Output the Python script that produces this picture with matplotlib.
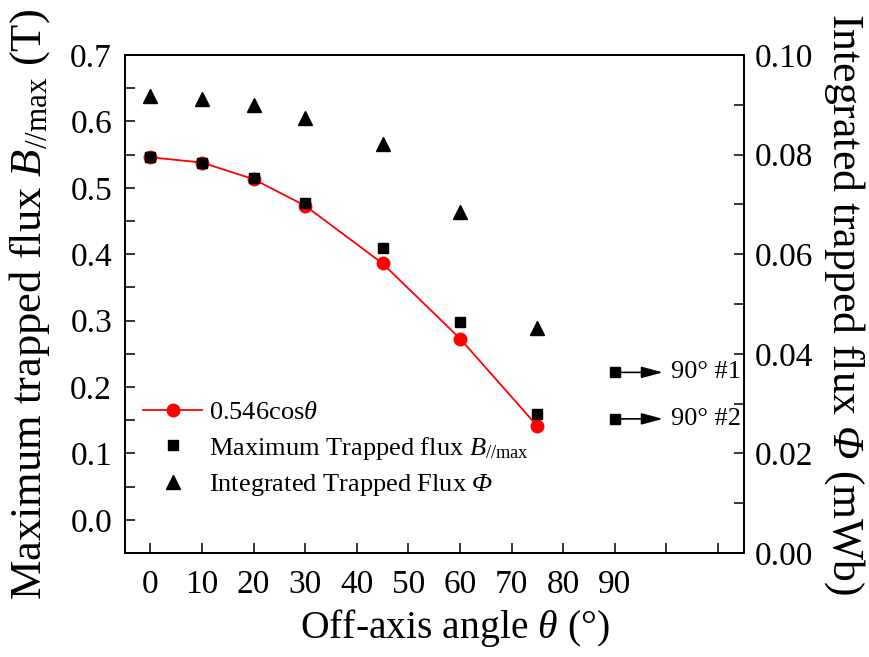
import matplotlib
matplotlib.use("Agg")
import matplotlib.pyplot as plt
from matplotlib.ticker import MultipleLocator, FixedLocator, FormatStrFormatter

plt.rcParams['font.family'] = ['Liberation Serif', 'DejaVu Serif']
plt.rcParams['mathtext.fontset'] = 'custom'
plt.rcParams['mathtext.rm'] = 'Liberation Serif:italic'
plt.rcParams['mathtext.it'] = 'Liberation Serif:italic'
plt.rcParams['mathtext.sf'] = 'Liberation Serif'
plt.rcParams['mathtext.bf'] = 'Liberation Serif:bold'

# ---- data ----
angles = [0, 10, 20, 30, 45, 60, 75]
cos_fit = [0.546, 0.538, 0.513, 0.473, 0.386, 0.273, 0.141]
b_max = [0.546, 0.537, 0.514, 0.477, 0.409, 0.298, 0.159]
phi = [0.0918, 0.0911, 0.0900, 0.0873, 0.0821, 0.0685, 0.0452]
angles_90 = [90, 90]
b_max_90 = [0.222, 0.152]
labels_90 = ['90° #1', '90° #2']
xtick_vals = [0, 10, 20, 30, 40, 50, 60, 70, 80, 90, 100, 110]
xtick_labels = ['0', '10', '20', '30', '40', '50', '60', '70', '80', '90', '', '']

fig = plt.figure(figsize=(8.69, 6.57), dpi=100)
ax = fig.add_axes([0.1433, 0.1583, 0.7127, 0.758])
ax2 = ax.twinx()

ax.plot(angles, cos_fit, color='red', lw=1.3, marker='o', ms=9,
        label=r'0.546cos$\theta$', zorder=3)
ax.plot(angles, b_max, ls='none', marker='s', color='black', ms=7.5,
        label=r'Maximum Trapped flux $B_{\mathsf{//max}}$', zorder=4)
ax.plot(angles_90, b_max_90, ls='none', marker='s', color='black', ms=7.5, zorder=4)
ax2.plot(angles, phi, ls='none', marker='^', color='black', ms=10)
# proxy for legend
ax.plot([], [], ls='none', marker='^', color='black', ms=10,
        label=r'Integrated Trapped Flux $\Phi$')

for y, lab in zip(b_max_90, labels_90):
    ax.annotate('', xy=(99.3, y), xytext=(90.9, y),
                arrowprops=dict(arrowstyle='-|>,head_length=1.3,head_width=0.35',
                                color='black', lw=1.2, shrinkA=0, shrinkB=0))
    ax.text(100.9, y, lab, fontsize=19, va='center', ha='left')

ax.set_xlim(-5, 115)
ax.set_ylim(-0.05, 0.7)
ax2.set_ylim(0, 0.10)

ax.xaxis.set_major_locator(FixedLocator(xtick_vals))
ax.set_xticklabels(xtick_labels)
ax.yaxis.set_major_locator(MultipleLocator(0.1))
ax.yaxis.set_minor_locator(MultipleLocator(0.05))
ax2.yaxis.set_major_locator(MultipleLocator(0.02))
ax2.yaxis.set_minor_locator(MultipleLocator(0.01))
ax.yaxis.set_major_formatter(FormatStrFormatter('%.1f'))
ax2.yaxis.set_major_formatter(FormatStrFormatter('%.2f'))

for a in (ax, ax2):
    for s in a.spines.values():
        s.set_linewidth(1.3)
ax.tick_params(axis='both', which='both', direction='in', length=7, width=1.1,
               labelsize=24, pad=9)
ax.tick_params(axis='x', pad=12)
ax.tick_params(axis='y', which='both', right=False)
ax2.tick_params(axis='y', which='both', direction='in', length=7, width=1.1,
                labelsize=24, pad=8)

ax.set_xlabel(r'Off-axis angle $\theta$ (°)', fontsize=28.5)
ax.xaxis.set_label_coords(0.533, -0.108)
ax.set_ylabel(r'Maximum trapped flux $B_{\mathsf{//max}}$ (T)', fontsize=32)
ax.yaxis.set_label_coords(-0.117, 0.5)
ax2.set_ylabel(r'Integrated trapped flux $\Phi$ (mWb)', fontsize=31.5,
               rotation=270, va='bottom')
ax2.yaxis.set_label_coords(1.126, 0.5)

leg = ax.legend(loc='upper left', bbox_to_anchor=(0.03, 0.306), frameon=False,
                fontsize=19, handlelength=2.25, handletextpad=0.25,
                labelspacing=0.4, borderpad=0, borderaxespad=0)

fig.savefig('out.png', dpi=100)
